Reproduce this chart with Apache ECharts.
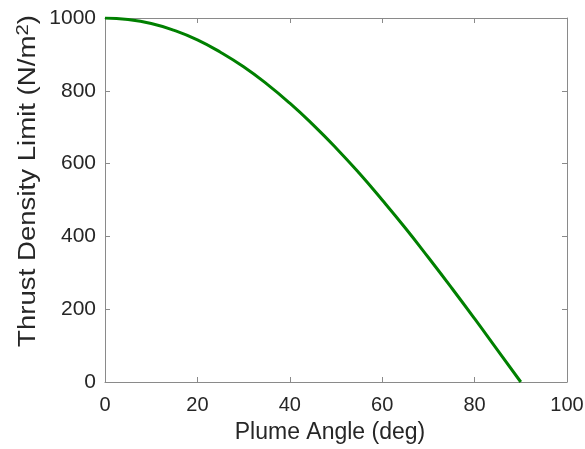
<!DOCTYPE html>
<html><head><meta charset="utf-8">
<script src="https://cdn.jsdelivr.net/npm/echarts@6/dist/echarts.min.js"></script>
<style>html,body{margin:0;padding:0;background:#fff}#c{width:585px;height:449px}</style>
</head><body><div id="c"></div>
<script>
const angles = [0,5,10,15,20,25,30,35,40,45,50,55,60,65,70,75,80,85,90];
const thrust = [1000,996,985,966,940,906,866,819,766,707,643,574,500,423,342,259,174,87,0];
const xTicks = [0,20,40,60,80,100];
const yTicks = [0,200,400,600,800,1000];
const xTitle = 'Plume Angle (deg)';
const yTitle = 'Thrust Density Limit (N/m{sup|2})';

const font = 'Liberation Sans, Arial, sans-serif';
const axisColor = '#8a8a8a';
const textColor = '#262626';
const chart = echarts.init(document.getElementById('c'));
const base = {
  axisLine:{show:true,onZero:false,lineStyle:{color:axisColor,width:1}},
  axisTick:{show:true,inside:true,length:5,lineStyle:{color:axisColor}},
  splitLine:{show:false}
};
chart.setOption({
  animation:false,
  grid:{left:105,right:18,top:18,bottom:67,containLabel:false,outerBoundsMode:'none'},
  xAxis:[
    Object.assign({type:'value',min:xTicks[0],max:xTicks[xTicks.length-1],interval:20,position:'bottom',
      name:xTitle,nameLocation:'middle',nameGap:39,
      nameTextStyle:{fontFamily:font,fontSize:23,color:textColor,padding:[0,12,0,0]},
      axisLabel:{fontFamily:font,fontSize:20,color:textColor,margin:13,formatter:v=>String(v)}},base),
    Object.assign({type:'value',min:0,max:100,interval:20,position:'top',axisLabel:{show:false}},base)
  ],
  yAxis:[
    Object.assign({type:'value',min:yTicks[0],max:yTicks[yTicks.length-1],interval:200,position:'left',
      axisLabel:{fontFamily:font,fontSize:21,color:textColor,margin:9,formatter:v=>String(v)}},base),
    Object.assign({type:'value',min:0,max:1000,interval:200,position:'right',axisLabel:{show:false}},base)
  ],
  graphic:[{
    type:'text',
    x:29, y:181,
    rotation:Math.PI/2,
    scaleX:1.2,
    style:{
      text:yTitle,
      fontFamily:font,fontSize:23,fill:textColor,
      align:'center',verticalAlign:'middle',
      rich:{sup:{fontFamily:font,fontSize:17,fill:textColor,lineHeight:23,padding:[0,0,12,0]}}
    }
  }],
  series:[{
    type:'line',
    data:angles.map((a,i)=>[a,thrust[i]]),
    smooth:true,
    showSymbol:false,
    lineStyle:{color:'#008000',width:3},
    itemStyle:{color:'#008000'}
  }]
});
</script></body></html>
